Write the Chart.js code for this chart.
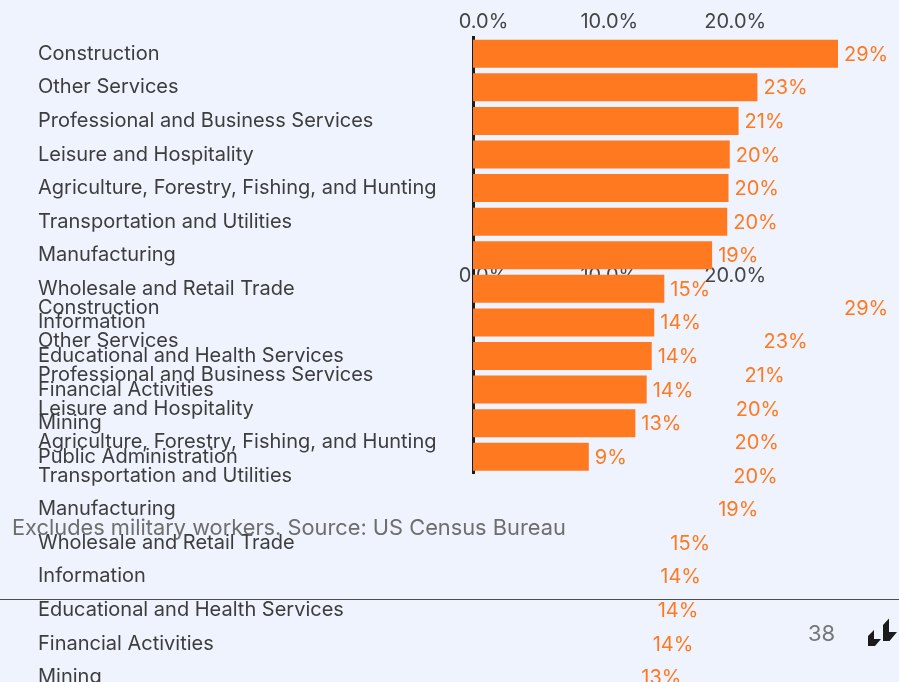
<!DOCTYPE html>
<html>
<head>
<meta charset="utf-8">
<script src="https://cdn.jsdelivr.net/npm/chart.js@4.4.1/dist/chart.umd.min.js"></script>
<style>
  html, body { margin: 0; padding: 0; }
  body { width: 899px; height: 682px; background: #EEF3FE; position: relative; overflow: hidden; font-family: Inter, "Noto Sans", sans-serif; }
  .wrap { position: absolute; left: 0; width: 899px; height: 490px; }
  #w2 { top: 254px; z-index: 1; }
  #w1 { top: 0; z-index: 2; }
  #note { position: absolute; left: 12px; top: 514px; font-size: 21.8px; line-height: 26px; color: #6e6e6e; z-index: 3; white-space: nowrap; }
  #rule { position: absolute; left: 0; top: 599px; width: 899px; height: 1px; background: #4d4d4d; z-index: 3; }
  #page { position: absolute; left: 808px; top: 620px; font-size: 22px; line-height: 26px; color: #777; z-index: 3; }
  #logo { position: absolute; left: 0; top: 0; z-index: 3; }
</style>
</head>
<body>
<div class="wrap" id="w2"><canvas id="c2" width="899" height="490"></canvas></div>
<div class="wrap" id="w1"><canvas id="c1" width="899" height="490"></canvas></div>
<div id="note">Excludes military workers. Source: US Census Bureau</div>
<div id="rule"></div>
<div id="page">38</div>
<svg id="logo" width="899" height="682" viewBox="0 0 899 682">
  <polygon points="883,625 889,618.5 889,632 897,632 889.5,641 883,641" fill="#1b1b1b"/>
  <polygon points="868,636 874,630 874,639 881,639 875,646 868,646" fill="#1b1b1b"/>
</svg>
<script>
const categories = [
  "Construction",
  "Other Services",
  "Professional and Business Services",
  "Leisure and Hospitality",
  "Agriculture, Forestry, Fishing, and Hunting",
  "Transportation and Utilities",
  "Manufacturing",
  "Wholesale and Retail Trade",
  "Information",
  "Educational and Health Services",
  "Financial Activities",
  "Mining",
  "Public Administration"
];
const shares = [29.0, 22.6, 21.1, 20.4, 20.3, 20.2, 19.0, 15.2, 14.4, 14.2, 13.8, 12.9, 9.2];
const tickValues = [0, 10, 20];
const axisMax = 29;

const ORANGE = '#FF7920';
const FONT = 'Inter, "Noto Sans", sans-serif';

const valueLabels = {
  id: 'valueLabels',
  afterDatasetsDraw(chart) {
    const ctx = chart.ctx;
    const meta = chart.getDatasetMeta(0);
    ctx.save();
    ctx.font = '20px ' + FONT;
    ctx.fillStyle = ORANGE;
    ctx.textAlign = 'left';
    ctx.textBaseline = 'middle';
    meta.data.forEach((bar, i) => {
      ctx.fillText(Math.round(shares[i]) + '%', bar.x + 6, bar.y + 1);
    });
    ctx.restore();
  }
};

function makeChart(id, ghost) {
  return new Chart(document.getElementById(id), {
    type: 'bar',
    data: {
      labels: categories,
      datasets: [{
        data: shares,
        backgroundColor: ghost ? 'rgba(0,0,0,0)' : ORANGE,
        borderWidth: 0,
        barPercentage: 0.834,
        categoryPercentage: 1.0
      }]
    },
    options: {
      indexAxis: 'y',
      responsive: false,
      animation: false,
      events: [],
      layout: { padding: { left: 38, right: 61, top: 7, bottom: 16.5 } },
      plugins: { legend: { display: false }, tooltip: { enabled: false } },
      scales: {
        x: {
          position: 'top',
          min: 0,
          max: axisMax,
          afterBuildTicks(scale) {
            scale.ticks = tickValues.map(v => ({ value: v }));
          },
          ticks: {
            callback: v => Number(v).toFixed(1) + '%',
            font: { size: 20, family: FONT },
            color: '#454545',
            padding: 3,
            labelOffset: 10.5,
            maxRotation: 0
          },
          grid: { display: false, drawTicks: false },
          border: { display: false }
        },
        y: {
          afterFit(scale) { scale.width = 435; },
          ticks: {
            crossAlign: 'far',
            font: { size: 20, family: FONT },
            color: '#3d3d3d',
            padding: 0,
            autoSkip: false
          },
          grid: { display: false, drawTicks: false },
          border: { display: !ghost, color: '#1c1c1c', width: 3 }
        }
      }
    },
    plugins: [valueLabels]
  });
}

makeChart('c2', true);
makeChart('c1', false);
</script>
</body>
</html>
